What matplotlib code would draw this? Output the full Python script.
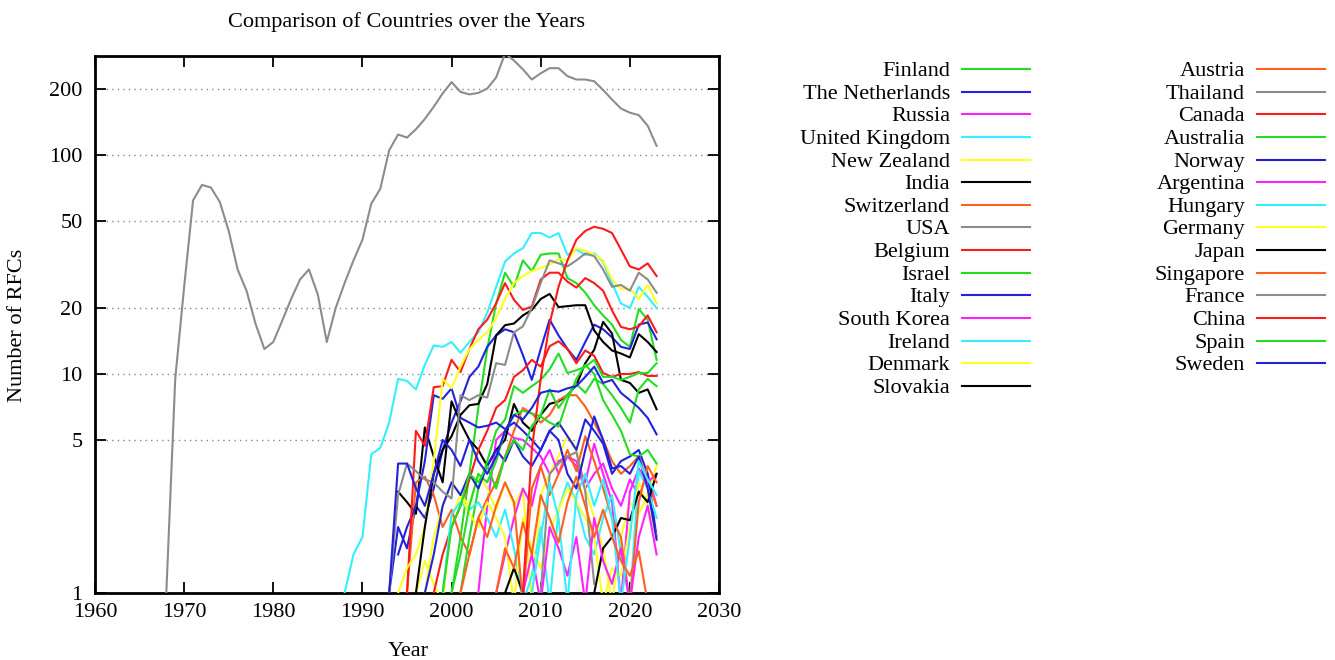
import numpy as np
import matplotlib.pyplot as plt
from matplotlib.lines import Line2D
from matplotlib.ticker import FixedLocator, NullLocator

plt.rcParams['font.family'] = ['Liberation Serif', 'DejaVu Serif']

# countries in plot / legend order
countries = ['Finland', 'The Netherlands', 'Russia', 'United Kingdom', 'New Zealand',
             'India', 'Switzerland', 'USA', 'Belgium', 'Israel', 'Italy', 'South Korea',
             'Ireland', 'Denmark', 'Slovakia', 'Austria', 'Thailand', 'Canada',
             'Australia', 'Norway', 'Argentina', 'Hungary', 'Germany', 'Japan',
             'Singapore', 'France', 'China', 'Spain', 'Sweden']

start_years = [2000, 1993, 2003, 1988, 1996,
               1994, 1995, 1968, 1998, 2001, 1994, 2005,
               1999, 1997, 2006, 2001, 2010, 1995,
               2000, 1997, 2008, 2009, 1994, 1996,
               2005, 1993, 2008, 1999, 1993]

# yearly RFC counts (nan = none that year, <1 drops off the bottom)
nan = np.nan
finland = [1, 1.8, 3.5, 7, 13, 21, 29, 25, 33, 29.5, 35, 35.5, 35.5, 27.4, 26, 23.5,
           20.6, 18.5, 16.8, 14.3, 13.3, 19.8, 17.7, 11.6]
netherlands = [1, 2, 1.6, 2.5, 2.2, 3, 4.5, 6, 7.5, 9.7, 10.8, 13.3, 15, 16, 15.5, 12.2,
               9.4, 13, 17.7, 15, 13, 11.6, 14, 16.8, 16, 14.7, 13.3, 13, 16.8, 17.2, 14.4]
russia = [1, 2.5, 5, 5.5, 5.1, 5, 4.6, 4.2, 3.5, 4, 4.2, 3.8, 3, 3.5, 3.9, 3, 2.5, 3.3,
          2.8, 3.5, 2.5]
uk = [1, 1.5, 1.8, 4.3, 4.6, 6, 9.5, 9.3, 8.5, 11, 13.5, 13.3, 14, 12.5, 14, 15.5, 19,
      25, 32.6, 35.5, 37.5, 44, 44, 42, 44, 35, 37, 35, 35.5, 32.5, 26, 21, 20, 25,
      22.5, 20]
new_zealand = [1, 1.4, 1.1, 0.9, 2.2, 2.8, 2.5, 3.5, 3, 2.4, 3.2, 2.5, 3, 0.9, 2.8, 3.5,
               4.2, 5.2, 4.6, 3, 2.2, 1.6, 0.9, 1.8, 2.6, 2.3, 2.8, 3.8]
india = [2.9, 2.6, 2.3, 5.7, 4.2, 3.2, 7.5, 6, 5, 4.5, 3.8, 4.5, 5, 7.3, 6, 5.5, 6.5,
         7.3, 7.5, 8, 8.9, 11.2, 12.9, 17.3, 15.3, 9.4, 9.1, 8.2, 8.5, 6.9]
switzerland = [1, 3.2, 3.4, 2.8, 2, 2.4, 1.8, 1.5, 2.2, 2.7, 3.2, 4.2, 5.5, 7, 6.6, 6,
               6.5, 7.6, 8, 8, 7.1, 6, 5, 4, 3.5, 3.8, 4.2, 3.2, 2.5]
usa = [1, 9.5, 25, 62, 73, 71, 61, 45, 30, 24, 17, 13, 14, 17.5, 22, 27, 30, 23, 14, 20,
       26, 33, 41, 60, 70, 105, 124, 120, 131, 146, 166, 191, 215, 194, 189, 192, 201,
       226, 290, 270, 246, 221, 236, 249, 249, 229, 221, 221, 217, 198, 179, 163, 156,
       152, 136, 110]
belgium = [1, 1.5, 2, 2.5, 3.3, 4.5, 5.5, 7, 7.6, 9.7, 10.4, 11.6, 10.8, 13.4, 14.1, 13,
           11.2, 12.8, 12.1, 10.1, 9.7, 10, 10, 10.2, 9.8, 9.8]
israel = [1, 1.8, 3, 4, 5.5, 6.2, 8.8, 8.2, 8.8, 9.4, 10.5, 12.4, 10.1, 10.4, 10.8, 11.6,
          9.7, 9.7, 9.4, 9.7, 10.1, 10.1, 11.2]
italy = [1.5, 2, 2.5, 4, 8, 7.7, 8.6, 6.3, 6, 5.7, 5.8, 6, 5.6, 6, 5.5, 5, 4.5, 5.5, 6,
         5.2, 4.5, 6.2, 5.5, 4.8, 3.5, 4, 4.2, 4.5, 3.5, 1.8]
south_korea = [1, 1.5, 2.2, 3, 2.5, 3.8, 4.5, 3.5, 4.2, 4, 3.2, 4.8, 3.5, 2.6, 0.9, 2.9,
               3.7, 3.2, 3.5]
ireland = [1, 2.3, 2.6, 2.4, 2.6, 2.2, 1.8, 2.4, 1.6, 0.9, 1.2, 2, 0.9, 2.4, 3.2, 2.6,
           1.8, 1.5, 2.2, 2.8, 1.5, 0.9, 3.6, 3, 2.2]
denmark = [1, 1.8, 2.5, 3.2, 2.8, 2.3, 2, 2.6, 2.2, 1.8, 0.9, 2.2, 1.6, 1.3, 1.9, 2.4, 3,
           2.6, 2.2, 1.8, 0.9, 1.3, 1.2, 2, 3.2, 2.5, 1.8]
slovakia = [1, 1.3, 1, nan, nan, nan, nan, nan, nan, nan, 1, 1.6, 1.8, 2.2, 2.15, 2.9,
            2.6, 3.5]
austria = [1, 1.5, 2.2, 1.8, 2.5, 3.2, 2.6, 0.9, 3, 3.8, 2.8, 3.5, 4.5, 3.6, 5.2, 4, 3,
           2.2, 1.8, 0.9, 2.6, 3.8, 3.2]
thailand = [1, 3.5, 3.9, 4.2, 4.4, 2.9, 1.1]
canada = [1, 5.5, 4.7, 8.7, 8.8, 11.6, 10.2, 13, 16, 17.7, 21, 26, 21.8, 19.6, 20.3, 27,
          29, 29, 26.4, 24.8, 27.4, 26, 24, 19.5, 16.4, 16, 16.5, 18.5, 15.5]
australia = [1, 1.5, 2.5, 3.5, 3.2, 4, 5.5, 6.5, 6.8, 6.6, 6.4, 6, 5.75, 7.6, 9.5, 11, 10,
             7.6, 6.5, 5.5, 4.3, 4.2, 4.5, 3.9]
norway = [1, 1.5, 2.5, 3.2, 2.8, 3.5, 3, 3.8, 4.5, 4, 5, 4.2, 3.8, 4.5, 5.5, 5, 3.5, 3,
          4.5, 6.4, 5, 3.7, 3.8, 3.5, 4.2, 3, 1.75]
argentina = [1, 1.5, 0.9, 2, 1.6, 1.2, 1.8, 0.9, 2.2, 1.4, 1.1, 1.6, 0.9, 1.8, 2.5, 1.5]
hungary = [1, 1.8, 3.2, 2.2, 0.9, 2.8, 3.5, 2.5, 3.3, 2.2, 0.9, 1.8, 4, 3.3, 2.8]
germany = [1, 1.3, 1.5, 2, 4, 9.5, 8.6, 10.8, 13, 14.3, 15.5, 18, 22, 26, 28, 29.5, 30.5,
           31.5, 33.5, 33, 37.5, 36.5, 35, 33, 27, 24.5, 24.5, 22, 25.5, 21]
japan = [1, 2, 3.5, 4.5, 5.2, 6.5, 7.2, 7.3, 9, 15, 16.7, 17, 18.5, 19.6, 22, 23.2, 20.2,
         20.4, 20.6, 20.6, 15.8, 14, 12.8, 12.4, 11.9, 15.2, 14, 12.6]
singapore = [1, 1.6, 1.3, 2.1, 1.5, 2.8, 2.2, 1.7, 2.6, 3.4, 2.5, 1.8, 2.4, 1.8, 1.4,
             1.2, 1.55, 0.9]
france = [1, 2.8, 3.9, 3.6, 3.3, 3.2, 2.9, 2.7, 8, 7.6, 8, 7.8, 11.2, 11, 15.5, 16.5, 20,
          26, 33, 32, 31, 33, 35.5, 34.5, 30, 25, 25.5, 24, 29, 27, 23.5]
china = [1, 4.5, 9.5, 17, 25, 33, 41, 45, 47, 46, 44, 37, 31, 30, 32, 28]
spain = [1, 2, 2.5, 3.5, 3.2, 3.8, 3, 4.2, 5, 4.5, 5.8, 6.5, 8.5, 7, 8, 9, 8.2, 9.5, 9, 8,
         7, 6, 8.5, 9.5, 8.8]
sweden = [1, 3.9, 3.9, 3, 2.5, 3.5, 5, 4.5, 3.8, 5, 4, 3.5, 4.2, 5.5, 6.5, 6.2, 7, 8.2,
          8.4, 8.3, 8.6, 8.8, 9.7, 10.8, 9.1, 9.4, 8.2, 7.6, 7, 6.3, 5.3]

series = [finland, netherlands, russia, uk, new_zealand, india, switzerland, usa,
          belgium, israel, italy, south_korea, ireland, denmark, slovakia, austria,
          thailand, canada, australia, norway, argentina, hungary, germany, japan,
          singapore, france, china, spain, sweden]

# gnuplot-like colour cycle
palette = ['#22dd22', '#2222dd', '#ff22ff', '#33f0ff', '#ffff22',
           '#000000', '#ff6020', '#8c8c8c', '#ff1a1a']

yticks = [1, 5, 10, 20, 50, 100, 200]

W, H = 1335, 660
fig = plt.figure(figsize=(W / 100, H / 100), dpi=100)
ax = fig.add_axes([95 / W, 1 - 593 / H, 624 / W, 537 / H])

for i, (vals, y0) in enumerate(zip(series, start_years)):
    years = np.arange(y0, y0 + len(vals))
    ax.plot(years, vals, color=palette[i % 9], lw=1.5, zorder=3)

ax.set_yscale('log')
ax.set_xlim(1960, 2030)
ax.set_ylim(1, 283)
ax.xaxis.set_major_locator(FixedLocator(range(1960, 2031, 10)))
ax.yaxis.set_major_locator(FixedLocator(yticks))
ax.yaxis.set_minor_locator(NullLocator())
ax.set_yticklabels([str(t) for t in yticks])
ax.tick_params(which='major', direction='in', length=8, width=1.3, labelsize=16,
               top=True, right=True, pad=7)
ax.tick_params(axis='y', pad=9)
for s in ax.spines.values():
    s.set_linewidth(2)
ax.grid(axis='y', color='#888888', linestyle=(0, (1, 3)), lw=1)

fig.text(407 / W, 1 - 22 / H, 'Comparison of Countries over the Years',
         ha='center', va='center', fontsize=16)
fig.text(408 / W, 1 - 651 / H, 'Year', ha='center', va='center', fontsize=16)
fig.text(18 / W, 1 - 325 / H, 'Number of RFCs', ha='center', va='center',
         rotation=90, fontsize=16)

# key: two columns, label right-aligned with a line sample after it
cols = [(950, 962, 1030), (1245, 1257, 1325)]
for i, name in enumerate(countries):
    tx, l0, l1 = cols[i // 15]
    yy = 1 - (69 + (i % 15) * 22.64) / H
    fig.text(tx / W, yy, name, ha='right', va='center_baseline', fontsize=16)
    fig.add_artist(Line2D([l0 / W, l1 / W], [yy, yy], color=palette[i % 9], lw=1.5,
                          transform=fig.transFigure))

fig.savefig('out.png', dpi=100)
